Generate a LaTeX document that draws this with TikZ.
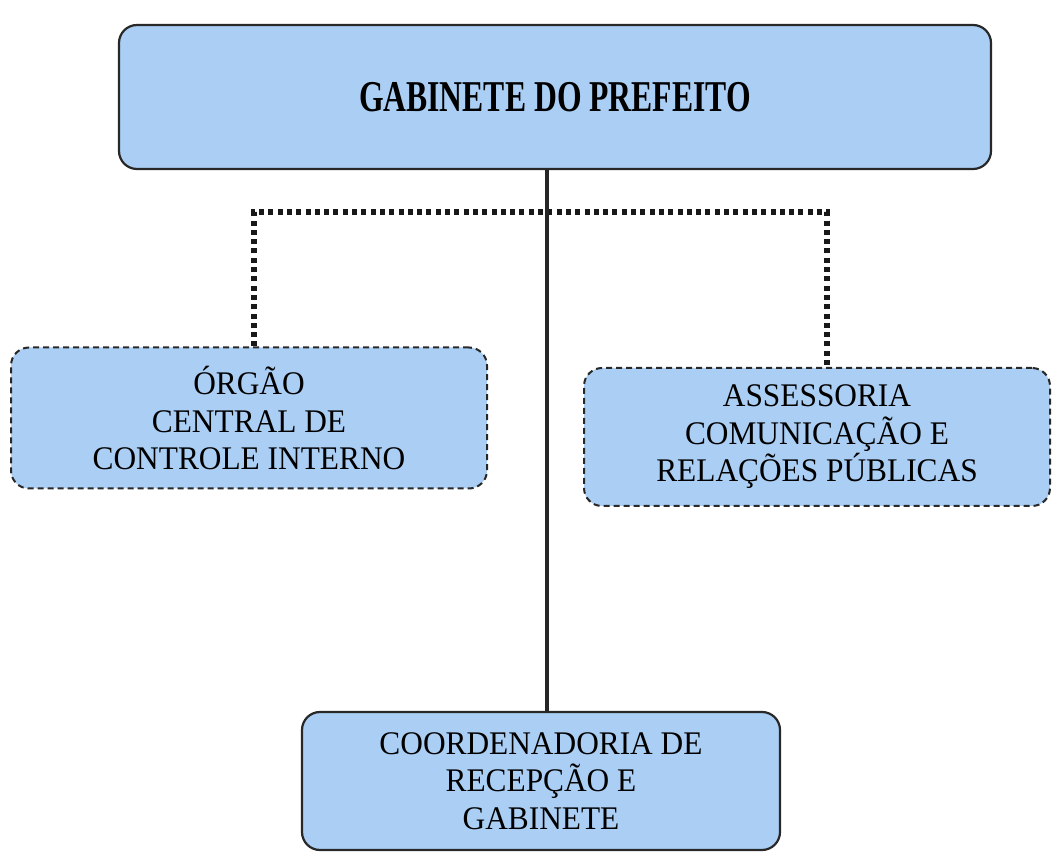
\documentclass[tikz,border=0pt]{standalone}
\usepackage{fontspec}
\setmainfont{Liberation Serif}
\newfontfamily\boxfont[FakeStretch=0.95]{Liberation Serif}
\newfontfamily\titlefont[FakeStretch=0.72]{Liberation Serif}
\definecolor{boxblue}{RGB}{170,206,244}
\definecolor{edge}{RGB}{40,40,40}
\tikzset{
  unitbox/.style={rounded corners=18pt, fill=boxblue, align=center, inner sep=0pt},
  solidbox/.style={unitbox, draw=edge, line width=2.2pt},
  dashbox/.style={unitbox, draw=edge, line width=2pt, dash pattern=on 6pt off 4pt},
  boxtext/.style={font=\boxfont\fontsize{33}{37.5}\selectfont},
  titletext/.style={font=\titlefont\bfseries\fontsize{44}{48}\selectfont},
  mainline/.style={draw=black!85, line width=3.5pt},
  dotline/.style={draw=black!90, line width=5.5pt, dash pattern=on 5pt off 4.3pt}
}
\begin{document}
\begin{tikzpicture}[x=1pt,y=-1pt]
\useasboundingbox (0,0) rectangle (1053,858);
\node[solidbox, titletext, minimum width=872pt, minimum height=144pt] (top) at (555,97) {GABINETE DO PREFEITO};
\node[dashbox, boxtext, minimum width=476pt, minimum height=141pt] (orgao) at (249,418) {ÓRGÃO\\CENTRAL DE\\CONTROLE INTERNO};
\node[dashbox, boxtext, minimum width=466pt, minimum height=138pt] (assess) at (817,437) {ASSESSORIA\\COMUNICAÇÃO E\\RELAÇÕES PÚBLICAS};
\node[solidbox, boxtext, minimum width=478pt, minimum height=138pt] (coord) at (541,781) {COORDENADORIA DE\\RECEPÇÃO E\\GABINETE};
\coordinate (spine) at (547,212);
\coordinate (jl) at (254,212);
\coordinate (jr) at (827,212);
\draw[dotline] (orgao.north -| jl) -- (jl) -- (jr) -- (assess.north -| jr);
\draw[mainline] (top.south -| spine) -- (coord.north -| spine);
\end{tikzpicture}
\end{document}
